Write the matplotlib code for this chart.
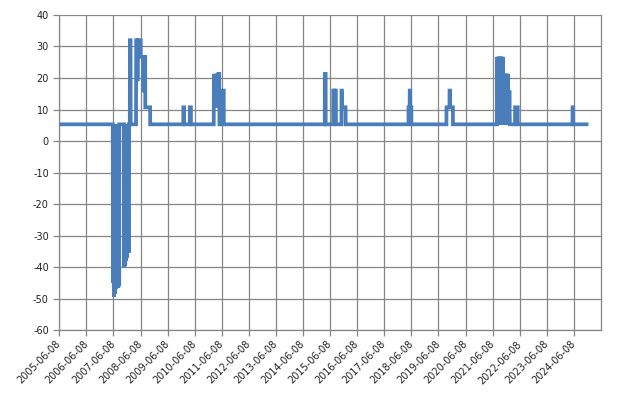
import matplotlib.pyplot as plt
import numpy as np

# baseline level and the step changes
start = [("2005-06-08", 5.3)]

neg_2007 = [
    ("2007-05-30", 5.3), ("2007-06-02", -45), ("2007-06-08", 5.3), ("2007-06-14", -49.5),
    ("2007-06-20", 5.3), ("2007-06-26", -48.5), ("2007-07-02", 5.3), ("2007-07-08", -47),
    ("2007-07-14", 5.3), ("2007-07-20", -46.5), ("2007-07-26", 5.3), ("2007-08-01", -46),
    ("2007-08-07", 5.3), ("2007-08-13", -46.5), ("2007-08-19", 5.3), ("2007-08-25", -46),
    ("2007-08-27", 5.3),
    ("2007-10-28", 5.3), ("2007-11-02", -40), ("2007-11-08", 5.3), ("2007-11-14", -39.5),
    ("2007-11-20", 5.3), ("2007-11-26", -38), ("2007-12-02", 5.3), ("2007-12-08", -37),
    ("2007-12-14", 5.3), ("2007-12-20", -35.5), ("2007-12-26", 5.3), ("2007-12-30", -35.5),
    ("2008-01-02", 5.3),
]

peaks_2008 = [
    ("2008-01-15", 5.3), ("2008-01-17", 32), ("2008-01-25", 32), ("2008-01-27", 5.3),
    ("2008-04-08", 5.3), ("2008-04-10", 32), ("2008-04-22", 32), ("2008-04-28", 19),
    ("2008-05-04", 32), ("2008-06-10", 32), ("2008-06-11", 26.7), ("2008-07-14", 26.7),
    ("2008-07-18", 15.5), ("2008-07-22", 26.7), ("2008-08-10", 26.7), ("2008-08-11", 10.7),
    ("2008-10-15", 10.7), ("2008-10-16", 5.3),
]

peaks_2010 = [
    ("2010-01-05", 5.3), ("2010-01-06", 10.7), ("2010-01-16", 10.7), ("2010-01-17", 5.3),
    ("2010-04-02", 5.3), ("2010-04-03", 10.7), ("2010-04-18", 10.7), ("2010-04-19", 5.3),
]

peaks_2011 = [
    ("2011-02-20", 5.3), ("2011-02-22", 21.3), ("2011-03-04", 10.7), ("2011-03-14", 21.3),
    ("2011-03-24", 10.7), ("2011-04-03", 21.3), ("2011-04-13", 10.7), ("2011-04-23", 21.3),
    ("2011-05-05", 21.3), ("2011-05-08", 5.3), ("2011-05-20", 5.3), ("2011-05-21", 16),
    ("2011-07-05", 16), ("2011-07-06", 5.3),
]

peaks_2015 = [
    ("2015-03-28", 5.3), ("2015-03-29", 21.3), ("2015-04-09", 21.3), ("2015-04-10", 5.3),
    ("2015-07-20", 5.3), ("2015-07-21", 16), ("2015-08-02", 16), ("2015-08-08", 5.3),
    ("2015-08-14", 16), ("2015-08-25", 16), ("2015-08-26", 5.3),
    ("2015-11-08", 5.3), ("2015-11-09", 16), ("2015-11-14", 16), ("2015-11-15", 10.7),
    ("2016-01-03", 10.7), ("2016-01-04", 5.3),
]

peaks_2018 = [
    ("2018-04-30", 5.3), ("2018-05-01", 10.7), ("2018-05-16", 10.7), ("2018-05-17", 16),
    ("2018-05-24", 16), ("2018-05-25", 10.7), ("2018-06-08", 10.7), ("2018-06-09", 5.3),
]

peaks_2019 = [
    ("2019-09-24", 5.3), ("2019-09-25", 10.7), ("2019-11-04", 10.7), ("2019-11-05", 16),
    ("2019-11-12", 16), ("2019-11-13", 10.7), ("2019-12-20", 10.7), ("2019-12-21", 5.3),
]

peaks_2021 = [
    ("2021-08-08", 5.3), ("2021-08-10", 26.7), ("2021-08-16", 5.3), ("2021-08-22", 26.7),
    ("2021-08-28", 5.3), ("2021-09-03", 26.7), ("2021-09-09", 5.3), ("2021-09-15", 26.7),
    ("2021-09-21", 5.3), ("2021-09-27", 26.7), ("2021-10-03", 5.3), ("2021-10-09", 26.7),
    ("2021-10-15", 5.3), ("2021-10-21", 26.7), ("2021-10-27", 5.3), ("2021-11-02", 21.3),
    ("2021-11-08", 5.3), ("2021-11-14", 21.3), ("2021-11-20", 5.3), ("2021-11-26", 21.3),
    ("2021-12-02", 5.3), ("2021-12-08", 21.3), ("2021-12-14", 5.3), ("2021-12-20", 21.3),
    ("2021-12-26", 5.3), ("2022-01-01", 21.3), ("2022-01-04", 5.3), ("2022-01-08", 16),
    ("2022-01-14", 5.3), ("2022-01-20", 16), ("2022-01-26", 5.3),
    ("2022-04-06", 5.3), ("2022-04-07", 10.7), ("2022-05-12", 10.7), ("2022-05-13", 5.3),
]

peaks_2024 = [
    ("2024-05-20", 5.3), ("2024-05-21", 10.7), ("2024-05-30", 10.7), ("2024-05-31", 5.3),
]

end = [("2024-11-26", 5.3)]

tick_dates = [f"{y}-06-08" for y in range(2005, 2026)]
y_ticks = list(range(-60, 41, 10))

points = (start + neg_2007 + peaks_2008 + peaks_2010 + peaks_2011 + peaks_2015
          + peaks_2018 + peaks_2019 + peaks_2021 + peaks_2024 + end)
x = np.array([p[0] for p in points], dtype="datetime64[D]")
y = np.array([p[1] for p in points])

grid_col = "#868686"
fig = plt.figure(figsize=(6.26, 4.03), dpi=100)
ax = fig.add_axes([0.0947, 0.181, 0.8653, 0.7818])

ax.plot(x, y, color="#4a7ebb", lw=2.7, solid_joinstyle="miter")

ticks = np.array(tick_dates, dtype="datetime64[D]")
ax.set_xlim(ticks[0], ticks[-1])
ax.set_xticks(ticks[:-1])
ax.set_xticklabels(tick_dates[:-1], rotation=45, ha="right", va="center",
                   rotation_mode="anchor", fontsize=7, color="#222222")
ax.set_ylim(-60, 40)
ax.set_yticks(y_ticks)
ax.set_yticklabels([str(v) for v in y_ticks], fontsize=7, color="#222222")

ax.grid(True, color=grid_col, lw=0.9)
ax.set_axisbelow(True)
ax.tick_params(axis="both", length=4, width=0.9, color=grid_col, direction="out")
ax.tick_params(axis="x", pad=5)
for side in ["left", "bottom", "right"]:
    ax.spines[side].set_color(grid_col)
    ax.spines[side].set_linewidth(0.9)
ax.spines["top"].set_visible(False)

fig.savefig("out.png", dpi=100)
